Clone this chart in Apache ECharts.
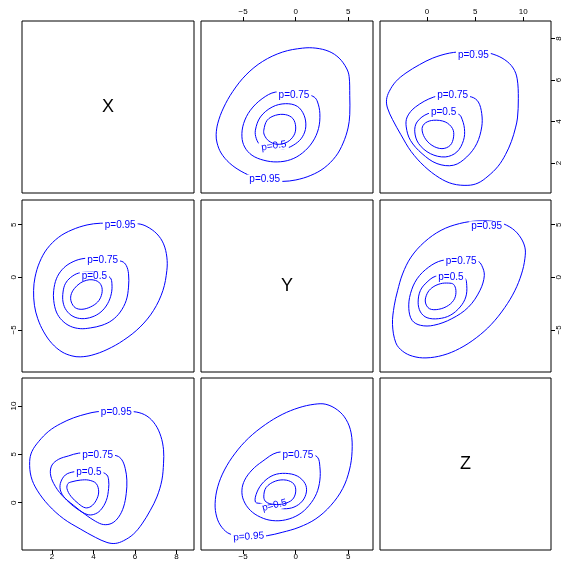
<!DOCTYPE html>
<html><head><meta charset="utf-8">
<script src="https://cdn.jsdelivr.net/npm/echarts@6/dist/echarts.min.js"></script>
<style>html,body{margin:0;padding:0;background:#fff}#c{width:564px;height:563px}</style>
</head><body><div id="c"></div>
<script>
// ================= data =================
const varNames = ['X', 'Y', 'Z'];
const rangeX = [0.55, 8.85];
const rangeY = [-9.0, 7.35];
const rangeZ = [-4.9, 12.9];
const ticksX = [2, 4, 6, 8];
const ticksY = [-5, 0, 5];
const ticksZ = [0, 5, 10];
const levelNames = ['p=0.95', 'p=0.75', 'p=0.5', 'p=0.25'];

// outer (p=0.95) contours, shared by both panels of a pair
const xy95 = [[4.33,5.14],[3.69,4.98],[2.96,4.51],[2.32,3.81],[1.76,2.71],[1.40,1.44],[1.18,0.02],[1.11,-1.24],[1.15,-2.66],[1.31,-3.93],[1.60,-5.19],[2.00,-6.30],[2.48,-7.09],[2.96,-7.47],[3.36,-7.56],[3.92,-7.40],[4.65,-6.87],[5.45,-5.98],[6.25,-4.72],[6.90,-3.14],[7.35,-1.25],[7.54,0.65],[7.54,1.92],[7.38,3.18],[7.06,4.13],[6.58,4.82],[6.18,5.08],[5.25,5.14]]; // [X,Y]
const xz95 = [[6.06,9.38],[6.58,8.96],[6.98,8.09],[7.25,6.87],[7.38,5.47],[7.38,4.08],[7.30,2.33],[7.06,0.59],[6.74,-0.80],[6.34,-2.20],[5.93,-3.25],[5.45,-3.94],[5.05,-4.22],[4.65,-4.12],[4.09,-3.59],[3.36,-2.72],[2.56,-1.67],[1.84,-0.28],[1.28,1.29],[0.99,2.68],[0.92,4.25],[1.03,5.30],[1.36,6.34],[1.84,7.39],[2.40,8.16],[3.04,8.78],[3.69,9.20],[4.17,9.41],[5.10,9.50]]; // [X,Z]
const yz95 = [[-2.71,-3.42],[-1.28,-3.07],[0.32,-2.55],[1.92,-1.67],[3.35,-0.28],[4.47,1.46],[5.11,3.38],[5.36,5.30],[5.27,7.22],[4.79,8.61],[3.99,9.58],[2.87,10.18],[1.76,10.18],[0.32,9.83],[-1.28,9.13],[-2.87,8.09],[-4.47,6.69],[-5.75,5.12],[-6.77,3.38],[-7.41,1.64],[-7.66,-0.11],[-7.50,-1.50],[-7.02,-2.55],[-6.23,-3.25],[-4.47,-3.60]]; // [Y,Z]

// inner contours, lower panels, [horizontal, vertical]
const p21_75 = [[5.37,1.51],[5.58,1.13],[5.69,0.34],[5.69,-0.93],[5.58,-2.19],[5.29,-3.30],[4.89,-4.09],[4.41,-4.56],[3.85,-4.81],[3.36,-4.88],[2.88,-4.65],[2.48,-4.09],[2.21,-3.30],[2.08,-2.19],[2.08,-1.24],[2.21,-0.14],[2.48,0.72],[2.88,1.35],[3.44,1.76],[4.33,1.85]];
const p21_50 = [[4.81,-0.04],[4.89,-0.61],[4.86,-1.56],[4.68,-2.51],[4.36,-3.29],[3.93,-3.77],[3.44,-3.93],[3.01,-3.71],[2.69,-3.14],[2.53,-2.35],[2.53,-1.40],[2.64,-0.61],[2.88,-0.04],[3.28,0.40],[4.01,0.53],[4.45,0.35]];
const p21_25 = [[3.93,-0.23],[4.25,-0.45],[4.41,-0.99],[4.38,-1.72],[4.20,-2.35],[3.85,-2.82],[3.44,-3.04],[3.12,-2.89],[2.93,-2.35],[2.91,-1.72],[3.07,-1.08],[3.36,-0.55],[3.65,-0.29]];
const p31_75 = [[5.13,4.84],[5.37,4.43],[5.53,3.55],[5.61,2.33],[5.58,0.94],[5.45,-0.45],[5.21,-1.50],[4.89,-2.13],[4.49,-2.27],[4.09,-1.92],[3.60,-1.22],[3.04,-0.28],[2.48,0.76],[2.08,1.98],[1.92,3.03],[2.00,3.90],[2.32,4.49],[2.80,4.84],[3.28,5.12],[4.17,5.19]];
const p31_50 = [[4.65,2.86],[4.73,2.33],[4.73,1.46],[4.62,0.24],[4.33,-0.80],[4.01,-1.22],[3.69,-1.22],[3.20,-0.63],[2.72,0.24],[2.43,1.11],[2.40,1.98],[2.64,2.86],[3.07,3.20],[3.85,3.38],[4.35,3.20]];
const p31_25 = [[2.96,2.16],[3.36,2.33],[3.77,2.33],[4.13,1.98],[4.25,1.11],[4.13,0.24],[3.88,-0.39],[3.60,-0.53],[3.28,-0.11],[2.91,0.66],[2.72,1.46],[2.77,1.98]];
const p32_75 = [[2.08,4.70],[2.30,3.73],[2.30,2.33],[1.98,0.94],[1.28,-0.28],[0.32,-1.22],[-0.96,-1.78],[-2.24,-1.85],[-3.35,-1.50],[-4.31,-0.80],[-4.95,0.24],[-5.11,1.29],[-4.85,2.33],[-4.15,3.38],[-3.19,4.25],[-1.76,5.19],[0.20,5.20],[1.30,5.05]];
const p32_50 = [[-3.83,0.07],[-3.67,1.11],[-3.03,2.16],[-2.08,2.86],[-0.96,3.03],[0.16,2.75],[0.89,1.98],[1.02,1.11],[0.64,0.17],[-0.16,-0.46],[-1.12,-0.63],[-2.23,-0.45],[-3.19,-0.11]];
const p32_25 = [[-3.03,0.59],[-2.81,1.57],[-1.92,2.23],[-0.89,2.33],[-0.16,1.91],[0.00,1.11],[-0.32,0.31],[-1.12,-0.11],[-2.08,-0.18],[-2.81,0.07]];

// inner contours, upper panels, [horizontal, vertical]
const p12_75 = [[-1.92,5.42],[-3.19,5.10],[-4.31,4.54],[-4.95,3.90],[-5.11,3.26],[-4.85,2.77],[-4.15,2.37],[-3.03,2.13],[-1.76,2.05],[-0.48,2.16],[0.64,2.48],[1.60,3.01],[2.17,3.66],[2.30,4.38],[2.08,4.94],[1.76,5.18],[0.90,5.33],[-0.16,5.36]];
const p12_50 = [[-3.83,3.58],[-3.35,4.22],[-2.23,4.70],[-0.96,4.86],[0.16,4.73],[0.80,4.30],[0.96,3.74],[0.64,3.26],[0.00,2.93],[-0.96,2.70],[-2.23,2.69],[-3.35,2.87],[-3.74,3.17]];
const p12_25 = [[-3.03,3.58],[-2.71,4.06],[-1.92,4.30],[-0.96,4.33],[-0.26,4.14],[0.00,3.74],[-0.16,3.34],[-0.80,3.01],[-1.76,2.90],[-2.55,3.06],[-2.97,3.34]];
const p13_75 = [[0.69,5.18],[-1.21,4.70],[-2.07,4.22],[-2.17,3.74],[-1.73,3.09],[-0.52,2.45],[1.03,1.97],[2.76,1.89],[4.13,2.29],[5.17,2.93],[5.69,3.74],[5.69,4.38],[5.34,4.94],[4.65,5.18],[2.66,5.31]];
const p13_50 = [[0.10,4.38],[-1.04,3.98],[-1.28,3.50],[-0.87,2.93],[0.34,2.45],[1.89,2.29],[3.10,2.53],[3.79,3.09],[3.89,3.66],[3.55,4.22],[3.27,4.35],[1.72,4.46]];
const p13_25 = [[-0.52,3.66],[-0.18,3.93],[0.69,4.06],[1.89,3.98],[2.65,3.66],[2.76,3.26],[2.41,2.85],[1.55,2.69],[0.51,2.85],[-0.25,3.22]];
const p23_75 = [[1.55,1.60],[0.17,0.97],[-1.04,-0.14],[-1.73,-1.56],[-1.90,-2.98],[-1.56,-4.09],[-0.69,-4.56],[0.69,-4.56],[2.58,-3.93],[4.31,-2.83],[5.51,-1.24],[5.96,0.18],[5.69,1.13],[5.27,1.54],[3.55,1.69]];
const p23_50 = [[3.89,-0.04],[4.13,-0.77],[4.03,-1.87],[3.44,-2.82],[2.41,-3.61],[1.20,-3.93],[0.00,-3.84],[-0.69,-3.29],[-0.93,-2.36],[-0.69,-1.24],[0.00,-0.45],[0.86,0.09],[2.41,0.24]];
const p23_25 = [[2.76,-0.67],[3.00,-1.24],[2.86,-2.03],[2.24,-2.66],[1.20,-3.04],[0.24,-2.98],[-0.18,-2.35],[0.00,-1.56],[0.51,-0.99],[1.38,-0.61],[2.24,-0.55]];

// contour label positions per panel, [horizontal, vertical] for p=0.95, p=0.75, p=0.5
const labels12 = [[-2.94,1.20],[-0.16,5.26],[-2.08,2.82]];
const labels13 = [[4.82,7.19],[2.66,5.26],[1.72,4.43]];
const labels21 = [[5.29,4.95],[4.44,1.66],[4.04,0.09]];
const labels23 = [[6.20,4.85],[3.55,1.53],[2.48,0.02]];
const labels31 = [[5.10,9.38],[4.20,4.95],[3.78,3.17]];
const labels32 = [[-4.47,-3.52],[0.22,4.94],[-2.01,-0.28]];

// ================= build =================
const ranges = {X: rangeX, Y: rangeY, Z: rangeZ};
const ticks = {X: ticksX, Y: ticksY, Z: ticksZ};
const swapPts = a => a.map(p => [p[1], p[0]]);
const panelRings = {
  '0,1': [swapPts(xy95), p12_75, p12_50, p12_25],
  '0,2': [swapPts(xz95), p13_75, p13_50, p13_25],
  '1,0': [xy95, p21_75, p21_50, p21_25],
  '1,2': [swapPts(yz95), p23_75, p23_50, p23_25],
  '2,0': [xz95, p31_75, p31_50, p31_25],
  '2,1': [yz95, p32_75, p32_50, p32_25]
};
const panelLabels = {'0,1': labels12, '0,2': labels13, '1,0': labels21, '1,2': labels23, '2,0': labels31, '2,1': labels32};
// label tilt (degrees) for a few labels that follow a sloped contour
const labelTilt = {'0,1': [0, 0, 8], '2,1': [4, 0, 14]};

const colL = [22, 201, 380], colW = [172, 172, 171];
const rowT = [21, 200, 378], rowH = [172, 172, 172];
const FONT = 'Liberation Sans, Arial, Helvetica, sans-serif';
const BLUE = '#0000ff';
const fmtTick = v => (v < 0 ? '\u2212' + (-v) : String(v));

const grids = [], xAxes = [], yAxes = [], series = [], graphics = [];
for (let r = 0; r < 3; r++) {
  for (let c = 0; c < 3; c++) {
    const gi = grids.length;
    grids.push({left: colL[c], top: rowT[r], width: colW[c], height: rowH[r], show: true,
      borderColor: '#000', borderWidth: 1, backgroundColor: 'transparent', containLabel: false});
    const hv = varNames[c], vv = varNames[r];
    const showTop = r === 0 && c !== 0, showBottom = r === 2 && c !== 2;
    const showLeft = c === 0 && r !== 0, showRight = c === 2 && r !== 2;
    const xShow = showTop || showBottom, yShow = showLeft || showRight;
    xAxes.push({type: 'value', gridIndex: gi, min: ranges[hv][0], max: ranges[hv][1],
      position: showTop ? 'top' : 'bottom',
      axisLine: {show: false, onZero: false}, splitLine: {show: false},
      axisTick: {show: xShow, length: 4, customValues: ticks[hv], lineStyle: {color: '#000', width: 1}},
      axisLabel: {show: xShow, customValues: ticks[hv], formatter: fmtTick, fontSize: 8, color: '#000', fontFamily: FONT, margin: showTop ? 5 : 3}});
    yAxes.push({type: 'value', gridIndex: gi, min: ranges[vv][0], max: ranges[vv][1],
      position: showRight ? 'right' : 'left',
      axisLine: {show: false, onZero: false}, splitLine: {show: false},
      axisTick: {show: yShow, length: 4, customValues: ticks[vv], lineStyle: {color: '#000', width: 1}},
      axisLabel: {show: yShow, customValues: ticks[vv], formatter: fmtTick, rotate: 90, fontSize: 8, color: '#000', fontFamily: FONT, margin: 4}});
    if (r === c) {
      graphics.push({type: 'text', x: colL[c] + colW[c] / 2, y: rowT[r] + rowH[r] / 2,
        style: {text: varNames[r], fontSize: 18, fontFamily: FONT, fill: '#000', align: 'center', verticalAlign: 'middle'}});
      continue;
    }
    const key = r + ',' + c;
    const rings = panelRings[key];
    const labs = panelLabels[key];
    const tilt = labelTilt[key] || [0, 0, 0];
    rings.forEach((pts, k) => {
      const lab = labs[k];
      series.push({type: 'custom', coordinateSystem: 'cartesian2d', xAxisIndex: gi, yAxisIndex: gi,
        silent: true, z: 2 + k, data: [pts[0]], clip: false,
        renderItem: function (params, api) {
          const cp = pts.map(p => api.coord(p));
          const children = [{type: 'polygon', shape: {points: cp, smooth: 0.35},
            style: {fill: null, stroke: BLUE, lineWidth: 1}}];
          if (lab) {
            const lp = api.coord(lab);
            children.push({type: 'text', x: lp[0], y: lp[1], rotation: (tilt[k] || 0) * Math.PI / 180,
              style: {text: levelNames[k], fontSize: 10, fontFamily: FONT, fill: BLUE,
                align: 'center', verticalAlign: 'middle', backgroundColor: '#ffffff', padding: [0, 2]}});
          }
          return {type: 'group', children: children};
        }});
    });
  }
}

const chart = echarts.init(document.getElementById('c'), null, {renderer: 'canvas'});
chart.setOption({animation: false, backgroundColor: '#fff', grid: grids, xAxis: xAxes, yAxis: yAxes,
  series: series, graphic: graphics});
</script></body></html>
